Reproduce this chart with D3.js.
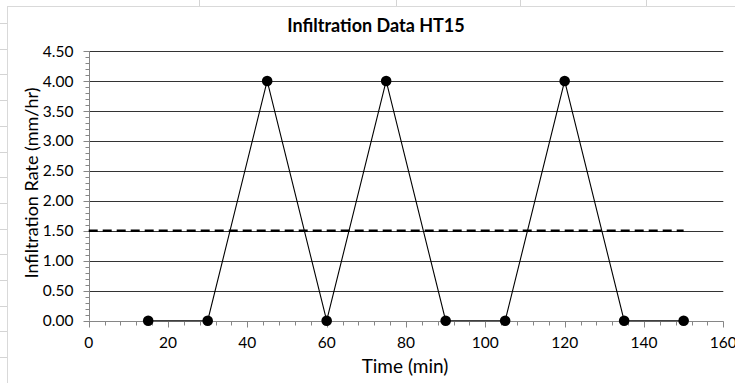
<!DOCTYPE html>
<html>
<head>
<meta charset="utf-8">
<script src="https://cdn.jsdelivr.net/npm/d3@7"></script>
<style>
  html, body { margin: 0; padding: 0; background: #fff; }
  svg { display: block; }
  text { font-family: Lato, "Open Sans", sans-serif; fill: #000; }
</style>
</head>
<body>
<svg id="chart" width="735" height="383"></svg>
<script>
// Measured infiltration rates over time
const times = [15, 30, 45, 60, 75, 90, 105, 120, 135, 150];
const rates = [0, 0, 4, 0, 4, 0, 0, 4, 0, 0];

// Average rate reference line
const avgRate = 1.5;
const avgSpan = [0, 150];

// Axis ticks
const xTicks = [0, 20, 40, 60, 80, 100, 120, 140, 160];
const yTicks = [0, 0.5, 1, 1.5, 2, 2.5, 3, 3.5, 4, 4.5];

const chartTitle = "Infiltration Data HT15";
const xTitle = "Time (min)";
const yTitle = "Infiltration Rate (mm/hr)";

const W = 735, H = 383;
const svg = d3.select("#chart");

// Worksheet cell lines behind the chart object
const cellRows = d3.range(23, H, 25.7);
const cellCols = [199, 396, 520, 646];
const sheet = svg.append("g").attr("stroke", "#d4d4d4").attr("stroke-width", 1);
sheet.selectAll("line.r").data(cellRows).join("line")
  .attr("x1", 0).attr("x2", 7).attr("y1", d => Math.round(d) + 0.5).attr("y2", d => Math.round(d) + 0.5);
sheet.selectAll("line.c").data(cellCols).join("line")
  .attr("x1", d => d + 0.5).attr("x2", d => d + 0.5).attr("y1", 0).attr("y2", 6);

// Chart object frame
svg.append("rect")
  .attr("x", 7.5).attr("y", 6.5).attr("width", W).attr("height", H)
  .attr("fill", "#fff").attr("stroke", "#d9d9d9");

const plot = { left: 88.7, right: 723.3, top: 51, bottom: 320.7 };

const x = d3.scaleLinear().domain([0, 160]).range([plot.left, plot.right]);
const y = d3.scaleLinear().domain([0, 4.5]).range([plot.bottom, plot.top]);

// Horizontal gridlines
svg.append("g").selectAll("line").data(yTicks.filter(v => v > 0)).join("line")
  .attr("x1", x(0)).attr("x2", x(160))
  .attr("y1", d => Math.round(y(d)) + 0.5).attr("y2", d => Math.round(y(d)) + 0.5)
  .attr("stroke", "#333").attr("stroke-width", 1);

// Y axis with minor ticks every 0.1
const yMinor = d3.range(0, 4.5001, 0.1);
const yAxisG = svg.append("g").attr("transform", `translate(${Math.round(plot.left) + 0.5},0)`);
yAxisG.append("line").attr("y1", y(4.5)).attr("y2", y(0)).attr("stroke", "#868686");
yAxisG.selectAll("line.mn").data(yMinor).join("line")
  .attr("x1", -4).attr("x2", 0)
  .attr("y1", d => Math.round(y(d)) + 0.5).attr("y2", d => Math.round(y(d)) + 0.5)
  .attr("stroke", "#868686");
yAxisG.selectAll("line.mj").data(yTicks).join("line")
  .attr("x1", -6).attr("x2", 0)
  .attr("y1", d => Math.round(y(d)) + 0.5).attr("y2", d => Math.round(y(d)) + 0.5)
  .attr("stroke", "#868686");
yAxisG.selectAll("text").data(yTicks).join("text")
  .attr("x", -16).attr("y", d => y(d))
  .attr("dy", "0.36em").attr("text-anchor", "end")
  .attr("font-size", 15.5)
  .text(d => d3.format(".2f")(d));

// X axis with minor ticks every 4
const xMinor = d3.range(0, 160.001, 4);
const xAxisG = svg.append("g").attr("transform", `translate(0,${Math.round(plot.bottom) + 0.5})`);
xAxisG.append("line").attr("x1", x(0)).attr("x2", x(160)).attr("stroke", "#868686");
xAxisG.selectAll("line.mn").data(xMinor).join("line")
  .attr("x1", d => Math.round(x(d)) + 0.5).attr("x2", d => Math.round(x(d)) + 0.5)
  .attr("y1", 0).attr("y2", 4).attr("stroke", "#868686");
xAxisG.selectAll("line.mj").data(xTicks).join("line")
  .attr("x1", d => Math.round(x(d)) + 0.5).attr("x2", d => Math.round(x(d)) + 0.5)
  .attr("y1", 0).attr("y2", 6).attr("stroke", "#868686");
xAxisG.selectAll("text").data(xTicks).join("text")
  .attr("x", d => x(d)).attr("y", 26)
  .attr("text-anchor", "middle")
  .attr("font-size", 15.5)
  .text(d => d);

// Average rate dashed line
svg.append("line")
  .attr("x1", x(avgSpan[0])).attr("x2", x(avgSpan[1]))
  .attr("y1", y(avgRate)).attr("y2", y(avgRate))
  .attr("stroke", "#000").attr("stroke-width", 2.5)
  .attr("stroke-dasharray", "9,5");

// Data series
const pts = times.map((t, i) => [t, rates[i]]);
svg.append("path")
  .datum(pts)
  .attr("d", d3.line().x(d => x(d[0])).y(d => y(d[1])))
  .attr("fill", "none").attr("stroke", "#000").attr("stroke-width", 1.1);
svg.append("g").selectAll("circle").data(pts).join("circle")
  .attr("cx", d => x(d[0])).attr("cy", d => y(d[1]))
  .attr("r", 5.3).attr("fill", "#000");

// Titles
svg.append("text")
  .attr("x", 376).attr("y", 32)
  .attr("text-anchor", "middle")
  .attr("font-size", 18).attr("font-weight", "bold")
  .text(chartTitle);

svg.append("text")
  .attr("x", 405).attr("y", 373)
  .attr("text-anchor", "middle")
  .attr("font-size", 19)
  .text(xTitle);

svg.append("text")
  .attr("transform", `translate(38,183) rotate(-90)`)
  .attr("text-anchor", "middle")
  .attr("font-size", 18)
  .text(yTitle);
</script>
</body>
</html>
